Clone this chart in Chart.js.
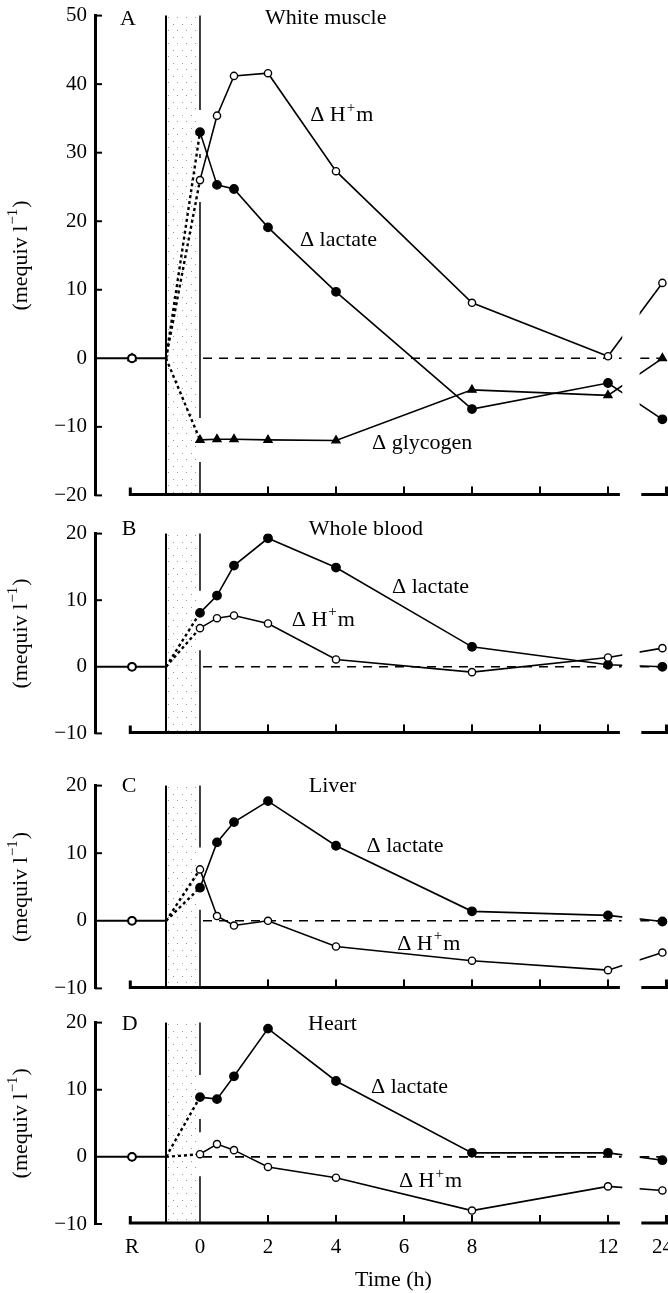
<!DOCTYPE html>
<html><head><meta charset="utf-8">
<script src="https://cdn.jsdelivr.net/npm/chart.js@4.4.0/dist/chart.umd.min.js"></script>
<style>
html,body{margin:0;padding:0;background:#fff;}
#wrap{position:relative;width:668px;height:1293px;overflow:hidden;background:#fff;}
canvas{position:absolute;left:0;}
</style></head><body><div id="wrap">
<canvas id="cA"></canvas><canvas id="cB"></canvas><canvas id="cC"></canvas><canvas id="cD"></canvas>
</div>
<script>
// ---------- data ----------
const timePoints = ['R', 0, 0.5, 1, 2, 4, 8, 12, 24];
const xTickValues = ['R', 0, 2, 4, 6, 8, 12, 24];
const xTickLabels = ['R', '0', '2', '4', '6', '8', '12', '24'];
const xMinorTicks = [2, 4, 6, 8, 10, 12];

const panelA_lactate  = [0, 33.0, 25.3, 24.7, 19.1, 9.7, -7.4, -3.6, -8.9];
const panelA_hplus    = [0, 26.0, 35.4, 41.2, 41.6, 27.3, 8.1, 0.3, 11.0];
const panelA_glycogen = [0, -11.9, -11.8, -11.8, -11.9, -12.0, -4.6, -5.4, 0];
const panelB_lactate  = [0, 8.1, 10.7, 15.2, 19.3, 14.9, 3.0, 0.3, 0];
const panelB_hplus    = [0, 5.8, 7.3, 7.7, 6.5, 1.1, -0.8, 1.4, 2.8];
const panelC_lactate  = [0, 4.9, 11.6, 14.6, 17.7, 11.1, 1.4, 0.8, -0.1];
const panelC_hplus    = [0, 7.6, 0.7, -0.7, 0.0, -3.8, -5.9, -7.3, -4.7];
const panelD_lactate  = [0, 8.9, 8.6, 12.0, 19.1, 11.3, 0.6, 0.6, -0.5];
const panelD_hplus    = [0, 0.4, 1.9, 1.0, -1.5, -3.1, -8.0, -4.4, -5.0];

// ---------- layout / style ----------
const FONT = '"Liberation Serif", "Times New Roman", serif';
const X_MIN = -3.088, X_MAX = 13.765;
function axisPos(t) { return t === 'R' ? -2 : (t === 24 ? 13.6 : t); }

function series(values, shape, fill, r) {
  return {
    data: timePoints.map((t, i) => ({x: axisPos(t), y: values[i]})),
    showLine: true, borderColor: '#000', borderWidth: 1.6,
    pointStyle: shape, pointRadius: r, pointBackgroundColor: fill,
    pointBorderColor: '#000', pointBorderWidth: 1.4,
    segment: { borderColor: c => c.p0DataIndex === 0 ? 'rgba(0,0,0,0)' : '#000' },
    order: 1, isMain: true
  };
}
function exerciseDash(values) {
  return { data: [{x: -1, y: 0}, {x: 0, y: values[1]}], showLine: true,
    borderColor: '#000', borderWidth: 2.4, borderDash: [3, 3], pointRadius: 0, order: 5 };
}

function makeStipple() {
  const c = document.createElement('canvas'); c.width = 9; c.height = 13;
  const g = c.getContext('2d');
  g.fillStyle = 'rgba(0,0,0,0.4)';
  g.fillRect(2, 3, 1, 1); g.fillRect(6, 9, 1, 1);
  return c;
}
const stippleCanvas = makeStipple();

function drawRich(ctx, parts, x, y, align) {
  const main = '22px ' + FONT, sup = '15px ' + FONT;
  let w = 0;
  parts.forEach(p => { ctx.font = p[1] ? sup : main; w += ctx.measureText(p[0]).width + (p[1] ? 2 : 0); });
  let cx = align === 'center' ? x - w / 2 : x;
  ctx.textAlign = 'left'; ctx.textBaseline = 'middle'; ctx.fillStyle = '#000';
  parts.forEach(p => {
    ctx.font = p[1] ? sup : main;
    if (p[1]) cx += 1;
    ctx.fillText(p[0], cx, p[1] ? y - 8 : y);
    cx += ctx.measureText(p[0]).width + (p[1] ? 1 : 0);
  });
}

const deco = {
  id: 'deco',
  beforeDatasetsDraw(chart) {
    const {ctx, chartArea: ca} = chart;
    const xs = chart.scales.x, ys = chart.scales.y;
    const X = v => xs.getPixelForValue(v), Y = v => ys.getPixelForValue(v);
    const seg = (a, b, c, d) => { ctx.beginPath(); ctx.moveTo(a, b); ctx.lineTo(c, d); ctx.stroke(); };
    ctx.save();
    ctx.strokeStyle = '#000'; ctx.lineCap = 'butt';
    // exercise period
    const x0 = X(-1), x1 = X(0);
    ctx.fillStyle = ctx.createPattern(stippleCanvas, 'repeat');
    ctx.fillRect(x0, ca.top, x1 - x0, ca.bottom - ca.top);
    ctx.lineWidth = 2; seg(x0, ca.top, x0, ca.bottom);
    // right boundary, interrupted round the 0 h points
    const gaps = chart.data.datasets.filter(d => d.isMain).map(d => Y(d.data[1].y))
      .map(p => [p - 22, p + 22]).sort((a, b) => a[0] - b[0]);
    let start = ca.top; ctx.lineWidth = 1.5;
    gaps.forEach(g => { if (g[0] > start) seg(x1, start, x1, g[0]); start = Math.max(start, g[1]); });
    if (start < ca.bottom) seg(x1, start, x1, ca.bottom);
    // zero lines
    const yz = Y(0);
    ctx.lineWidth = 2; seg(ca.left, yz, x0, yz);
    ctx.lineWidth = 1.6; ctx.setLineDash([9, 7]);
    seg(x1 + 3, yz, X(12.4), yz);
    seg(X(12.95), yz, X(13.6), yz);
    ctx.setLineDash([]);
    // x axis
    const yb = ca.bottom - 1;
    ctx.lineWidth = 3;
    ctx.beginPath(); ctx.moveTo(X(-2.05), yb - 7); ctx.lineTo(X(-2.05), yb); ctx.lineTo(X(12.35), yb); ctx.stroke();
    ctx.lineWidth = 2;
    xMinorTicks.forEach(v => seg(X(v), yb, X(v), yb - 8));
    ctx.lineWidth = 3;
    ctx.beginPath(); ctx.moveTo(X(12.98), yb); ctx.lineTo(X(13.72), yb); ctx.lineTo(X(13.72), yb - 8); ctx.stroke();
    // inward y ticks
    ctx.lineWidth = 2;
    ys.ticks.forEach(t => { if (t.value !== 0) seg(ca.left, Y(t.value), ca.left + 7, Y(t.value)); });
    ctx.restore();
    // axis break: hide lines between 12 h and 24 h
    ctx.save();
    ctx.beginPath();
    ctx.rect(0, 0, X(12.42), chart.height);
    ctx.rect(X(12.93), 0, chart.width, chart.height);
    ctx.clip();
  },
  afterDatasetsDraw(chart) { chart.ctx.restore(); },
  afterDraw(chart, args, opts) {
    const {ctx, chartArea: ca} = chart;
    const xs = chart.scales.x, ys = chart.scales.y;
    ctx.save();
    (opts.texts || []).forEach(t => drawRich(ctx, t.parts, xs.getPixelForValue(t.x), ys.getPixelForValue(t.y), 'left'));
    ctx.translate(21, (ca.top + ca.bottom) / 2); ctx.rotate(-Math.PI / 2);
    drawRich(ctx, [['(mequiv l'], ['\u22121', true], [')']], 0, 0, 'center');
    ctx.restore();
    if (opts.xTitle) {
      ctx.save();
      drawRich(ctx, [[opts.xTitle]], xs.getPixelForValue(5.69), ca.bottom + 56, 'center');
      ctx.restore();
    }
  }
};

const DH = [['\u0394 H'], ['+', true], ['m']];
const panels = [
  { id: 'cA', top: 15, bottom: 496, min: -20, max: 50,
    datasets: [series(panelA_hplus, 'circle', '#fff', 3.6), series(panelA_lactate, 'circle', '#000', 4.2),
               series(panelA_glycogen, 'triangle', '#000', 4.6),
               exerciseDash(panelA_lactate), exerciseDash(panelA_hplus), exerciseDash(panelA_glycogen)],
    texts: [{parts: [['A']], x: -2.35, y: 49.5}, {parts: [['White muscle']], x: 1.91, y: 49.6},
            {parts: DH, x: 3.24, y: 35.4}, {parts: [['\u0394 lactate']], x: 2.94, y: 17.2},
            {parts: [['\u0394 glycogen']], x: 5.06, y: -12.4}] },
  { id: 'cB', top: 533, bottom: 734, min: -10, max: 20,
    datasets: [series(panelB_hplus, 'circle', '#fff', 3.6), series(panelB_lactate, 'circle', '#000', 4.2),
               exerciseDash(panelB_lactate), exerciseDash(panelB_hplus)],
    texts: [{parts: [['B']], x: -2.3, y: 20.6}, {parts: [['Whole blood']], x: 3.2, y: 20.7},
            {parts: [['\u0394 lactate']], x: 5.65, y: 11.9}, {parts: DH, x: 2.7, y: 7.0}] },
  { id: 'cC', top: 785, bottom: 989, min: -10, max: 20,
    datasets: [series(panelC_hplus, 'circle', '#fff', 3.6), series(panelC_lactate, 'circle', '#000', 4.2),
               exerciseDash(panelC_lactate), exerciseDash(panelC_hplus)],
    texts: [{parts: [['C']], x: -2.3, y: 19.9}, {parts: [['Liver']], x: 3.2, y: 19.9},
            {parts: [['\u0394 lactate']], x: 4.9, y: 11.1}, {parts: DH, x: 5.8, y: -3.5}] },
  { id: 'cD', top: 1022, bottom: 1224, min: -10, max: 20, last: true,
    datasets: [series(panelD_hplus, 'circle', '#fff', 3.6), series(panelD_lactate, 'circle', '#000', 4.2),
               exerciseDash(panelD_lactate), exerciseDash(panelD_hplus)],
    texts: [{parts: [['D']], x: -2.3, y: 19.8}, {parts: [['Heart']], x: 3.18, y: 19.8},
            {parts: [['\u0394 lactate']], x: 5.03, y: 10.4}, {parts: DH, x: 5.85, y: -3.7}] }
];

panels.forEach(p => {
  const padTop = 20, padBottom = p.last ? 0 : 20, xH = 69;
  const h = (p.bottom - p.top) + padTop + (p.last ? xH : padBottom);
  const cv = document.getElementById(p.id);
  cv.width = 700; cv.height = h;
  cv.style.width = '700px'; cv.style.height = h + 'px'; cv.style.top = (p.top - padTop) + 'px';
  new Chart(cv, {
    type: 'scatter',
    data: { datasets: p.datasets },
    options: {
      responsive: false, animation: false, events: [],
      layout: { padding: { top: padTop, bottom: padBottom, left: 0, right: 32 } },
      plugins: { legend: { display: false }, tooltip: { enabled: false },
                 deco: { texts: p.texts, xTitle: p.last ? 'Time (h)' : null } },
      scales: {
        x: { type: 'linear', min: X_MIN, max: X_MAX, display: !!p.last,
             grid: { display: false, drawTicks: false }, border: { display: false },
             afterBuildTicks: s => { s.ticks = xTickValues.map(v => ({ value: axisPos(v) })); },
             afterFit: s => { if (p.last) s.height = xH; },
             ticks: { autoSkip: false, maxRotation: 0, padding: 11, color: '#000',
                      font: { family: FONT, size: 21 },
                      callback: (v, i) => xTickLabels[i] } },
        y: { type: 'linear', min: p.min, max: p.max,
             grid: { display: false, drawTicks: false },
             border: { display: true, width: 3, color: '#000' },
             afterFit: s => { s.width = 95; },
             ticks: { stepSize: 10, padding: 8, color: '#000', font: { family: FONT, size: 21 },
                      callback: v => String(v).replace('-', '\u2212') } }
      }
    },
    plugins: [deco]
  });
});
</script></body></html>
